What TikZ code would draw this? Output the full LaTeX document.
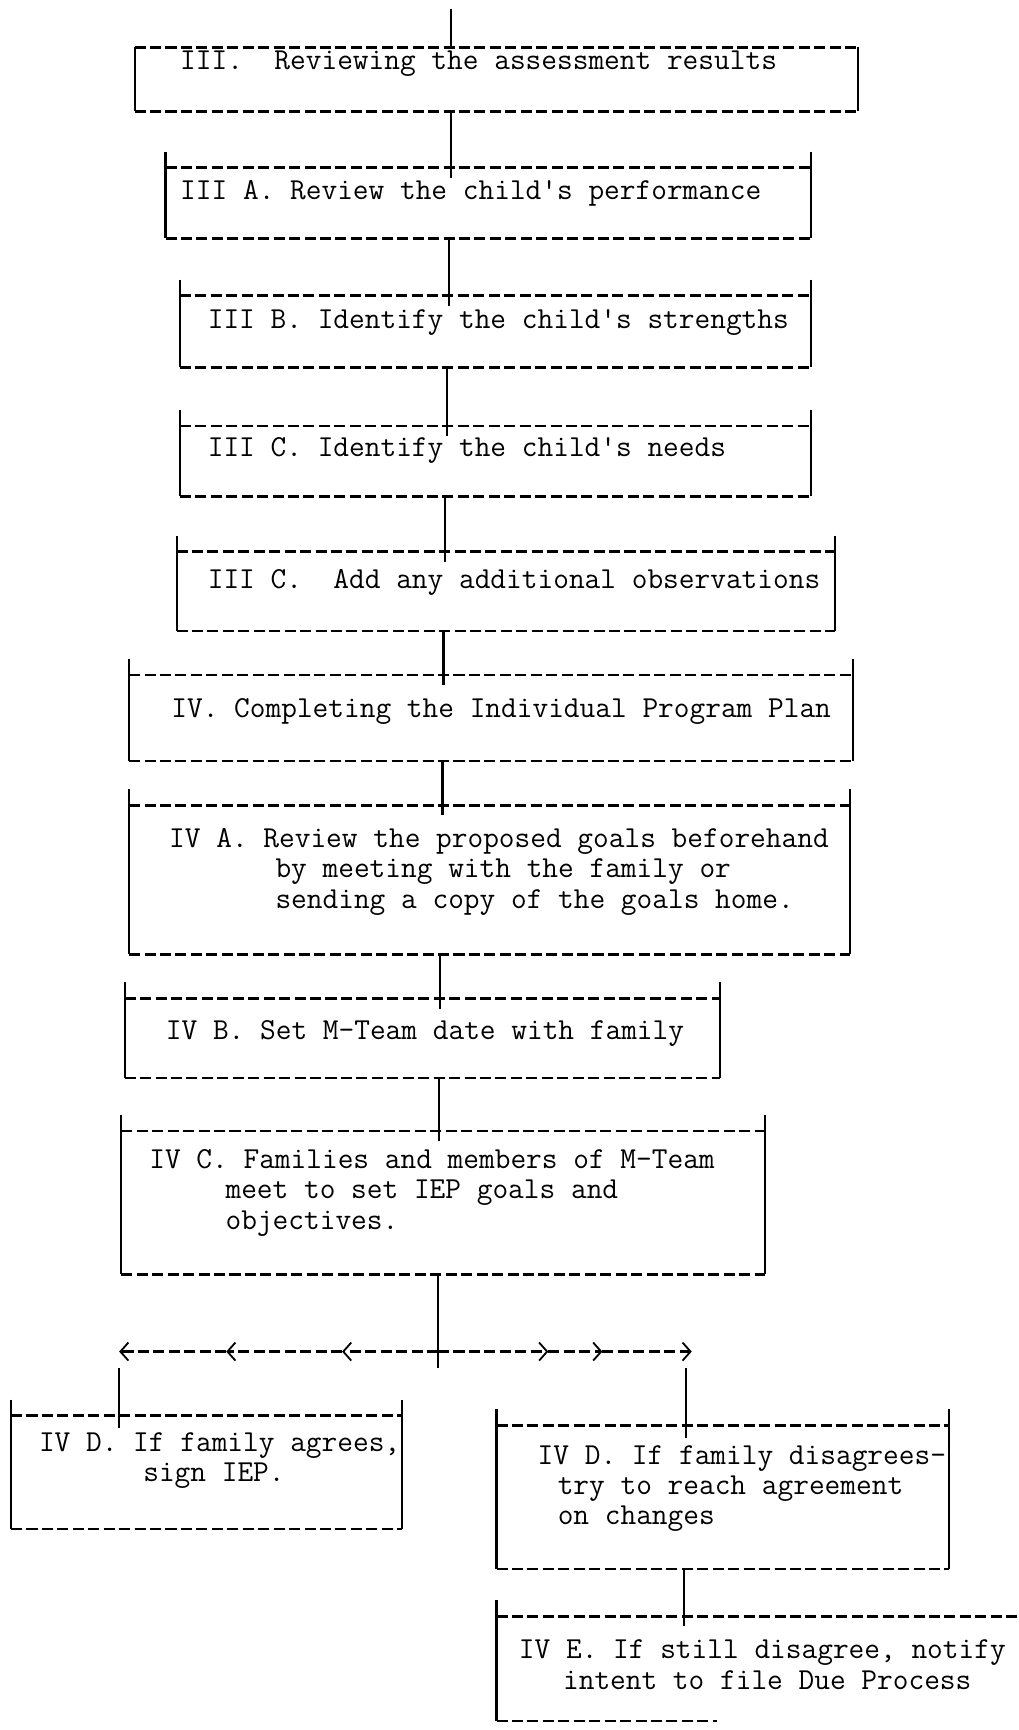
\documentclass[tikz,border=0pt]{standalone}
\usepackage{tikz}
\usetikzlibrary{arrows.meta, positioning, fit}

\begin{document}
\begin{tikzpicture}[x=0.55pt, y=-0.55pt,
    txt/.style={font=\fontsize{15.2}{15.1}\selectfont\ttfamily, anchor=base west, inner sep=0pt, align=left},
    area/.style={inner sep=0pt, outer sep=0pt, draw=none},
    edge/.style={line width=1.2pt, dash pattern=on 5.5pt off 2.2pt},
    side/.style={line width=1pt},
    link/.style={line width=1.1pt},
    fork/.style={line width=1.2pt, dash pattern=on 5.5pt off 2.2pt, -{Straight Barb[length=4pt,width=9pt,line width=0.9pt]}}]
\useasboundingbox (0,0) rectangle (923,1568);

% boxes: name/left/top/right/bottom/entry/rise
\foreach \n/\l/\t/\r/\b/\e/\s in {III/122/43/778/101/409/0, IIIA/150/152/735/216/409/8,
    IIIB/163/268/735/333/407/8, IIIC/163/386/735/450/405/8, IIID/160/500/757/572/403/8,
    IV/117/612/773/690/402/8, IVA/117/730/770/865/401/8, IVB/113/905/653/977/399/8,
    IVC/110/1025/693/1155/398/8, IVDl/10/1283/364/1386/108/8, IVDr/450/1292/860/1422/622/8}{
  \node[area, fit={(\l,\t) (\r,\b)}] (\n) {};
  \coordinate (\n-in) at (\e,\t);
  \draw[edge] (\n.north west) -- (\n.north east);
  \draw[edge] (\n.south west) -- (\n.south east);
  \draw[side] ([yshift=\s pt]\n.north west) -- (\n.south west);
  \draw[side] ([yshift=\s pt]\n.north east) -- (\n.south east);
}
% last box runs off the page
\node[area, fit={(450,1465) (923,1560)}] (IVE) {};
\coordinate (IVE-in) at (620,1465);
\draw[edge] (IVE.north west) -- (IVE.north east);
\draw[edge] (IVE.south west) -- ++(200,0);
\draw[side] ([yshift=8pt]IVE.north west) -- (IVE.south west);

% texts (multi-line ones sit on their last line)
\node[txt] (tIII) at (163,63) {III.\ \ Reviewing the assessment results};
\node[txt] (tIIIA) at (163,181) {III A. Review the child's performance};
\node[txt] (tIIIB) at (188,298) {III B. Identify the child's strengths};
\node[txt] (tIIIC) at (188,414) {III C. Identify the child's needs};
\node[txt] (tIIID) at (188,533) {III C.\ \ Add any additional observations};
\node[txt] (tIV) at (155,650) {IV. Completing the Individual Program Plan};
\node[txt] (tIVA) at (153,823) {IV A. Review the proposed goals beforehand\\
    \hspace*{53pt}by meeting with the family or\\
    \hspace*{53pt}sending a copy of the goals home.};
\node[txt] (tIVB) at (150,942) {IV B. Set M-Team date with family};
\node[txt] (tIVC) at (135,1114) {IV C. Families and members of M-Team\\
    \hspace*{38pt}meet to set IEP goals and\\
    \hspace*{38pt}objectives.};
\node[txt] (tIVDl) at (35,1343) {IV D. If family agrees,\\
    \hspace*{52pt}sign IEP.};
\node[txt] (tIVDr) at (487,1382) {IV D. If family disagrees-\\
    \hspace*{10pt}try to reach agreement\\
    \hspace*{10pt}on changes};
\node[txt] (tIVE) at (470,1531) {IV E. If still disagree, notify\\
    \hspace*{22pt}intent to file Due Process};

% vertical links
\coordinate (start) at (409,8);
\draw[link] (start) -- (III-in);
\foreach \a/\b in {III/IIIA, IIIA/IIIB, IIIB/IIIC, IIIC/IIID, IIID/IV, IV/IVA, IVA/IVB, IVB/IVC, IVDr/IVE}
  \draw[link] (\a.south -| \b-in) -- ([yshift=-5pt]\b-in);

% the split
\coordinate (split) at (397,1225);
\coordinate (l1) at (310,1225);
\coordinate (l2) at (205,1225);
\coordinate (l3) at (108,1225);
\coordinate (r1) at (497,1225);
\coordinate (r2) at (546,1225);
\coordinate (r3) at (627,1225);
\draw[link] (IVC.south -| split) -- ([yshift=-8pt]split);
\draw[fork] (split) -- (l1);
\draw[fork] (l1) -- (l2);
\draw[fork] (l2) -- (l3);
\draw[fork] (split) -- (r1);
\draw[fork] (r1) -- (r2);
\draw[fork] (r2) -- (r3);
\coordinate (dl) at (108,1240);
\coordinate (dr) at (622,1240);
\draw[link] (dl) -- ([yshift=-6pt]IVDl-in);
\draw[link] (dr) -- ([yshift=-6pt]IVDr-in);
\end{tikzpicture}
\end{document}
